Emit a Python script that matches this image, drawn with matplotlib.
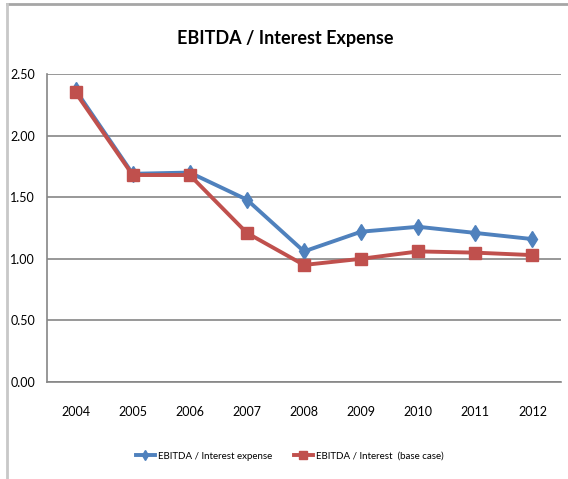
import matplotlib
matplotlib.use("Agg")
import matplotlib.pyplot as plt
from matplotlib.lines import Line2D

years = ["2004", "2005", "2006", "2007", "2008", "2009", "2010", "2011", "2012"]
interest_expense = [2.37, 1.69, 1.70, 1.48, 1.06, 1.22, 1.26, 1.21, 1.16]
base_case = [2.35, 1.68, 1.68, 1.21, 0.95, 1.00, 1.06, 1.05, 1.03]
yticks = [0.0, 0.5, 1.0, 1.5, 2.0, 2.5]

plt.rcParams["font.family"] = ["Lato", "DejaVu Sans"]

fig = plt.figure(figsize=(5.68, 4.79), dpi=100)
# chart frame (top and left edges show)
fig.lines.append(Line2D([0.012, 1.0], [0.992, 0.992], transform=fig.transFigure,
                        color="#a6a6a6", lw=2))
fig.lines.append(Line2D([0.012, 0.012], [0.0, 0.992], transform=fig.transFigure,
                        color="#c8c8c8", lw=2))
ax = fig.add_axes([0.0827, 0.2025, 0.905, 0.643])

x = range(len(years))
ax.plot(x, interest_expense, color="#4F81BD", lw=2.8, marker="d", ms=8,
        label="EBITDA / Interest expense", zorder=3)
ax.plot(x, base_case, color="#C0504D", lw=2.8, marker="s", ms=8,
        label="EBITDA / Interest  (base case)", zorder=4)

ax.set_xlim(-0.5, len(years) - 0.5)
ax.set_ylim(0, 2.5)
ax.set_yticks(yticks)
ax.set_yticklabels([f"{v:.2f}" for v in yticks], fontsize=9)
ax.set_xticks(list(x))
ax.set_xticklabels(years, fontsize=9)
ax.grid(axis="y", color="#868686", lw=1.2)
ax.set_axisbelow(True)
for s in ["top", "right"]:
    ax.spines[s].set_visible(False)
for s in ["left", "bottom"]:
    ax.spines[s].set_color("#868686")
    ax.spines[s].set_linewidth(1.2)
ax.tick_params(axis="x", length=0, pad=17)
ax.tick_params(axis="y", length=0, pad=8.5)

fig.text(0.502, 0.92, "EBITDA / Interest Expense", ha="center", va="center",
         fontsize=13, fontweight="bold")
fig.legend(loc="center", bbox_to_anchor=(0.51, 0.048), ncol=2, frameon=False,
           fontsize=7, handlelength=2.0, handletextpad=0.3, columnspacing=2.2,
           markerscale=0.7)

fig.savefig("out.png", dpi=100)
